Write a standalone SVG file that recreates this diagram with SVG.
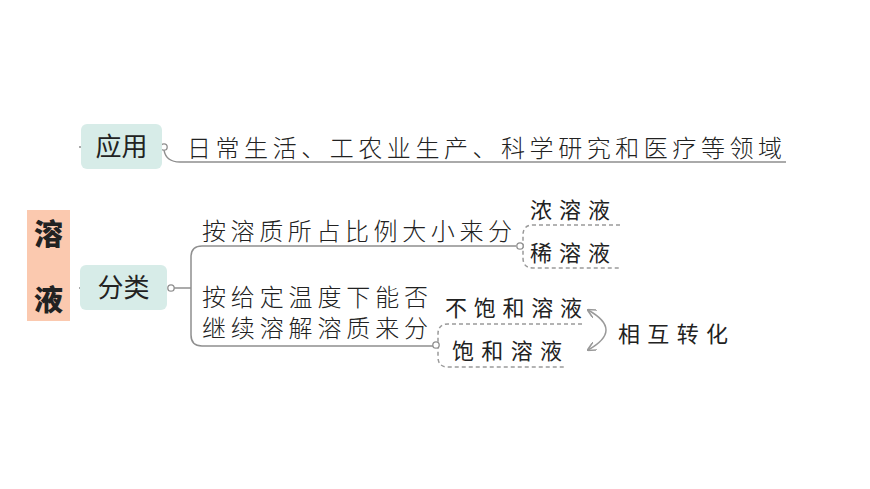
<svg xmlns="http://www.w3.org/2000/svg" width="870" height="489" viewBox="0 0 870 489">
<style>
.t{font-family:"Noto Sans CJK SC","Noto Sans",sans-serif;fill:#222;}
.main{font-size:24px;font-weight:300;}
.leaf{font-size:22px;}
.box{fill:#D7ECE8;}
.boxt{font-size:26px;}
.ln{fill:none;stroke:#8f8f8f;stroke-width:1.5;}
.dash{fill:none;stroke:#9a9a9a;stroke-width:1.5;stroke-dasharray:4 3;}
.dot{fill:#fff;stroke:#8f8f8f;stroke-width:1.3;}
</style>
<defs>
<marker id="ah" viewBox="0 0 10 10" refX="9" refY="5" markerWidth="6" markerHeight="6" orient="auto-start-reverse">
<path d="M0,0 L10,5 L0,10" fill="none" stroke="#9a9a9a" stroke-width="1.8"/>
</marker>
</defs>
<rect width="870" height="489" fill="#fff"/>
<g id="connectors">
<path class="ln" d="M164,150 Q166,162 180,162 L786,162"/>
<path class="ln" d="M174,288 L191,288"/>
<path class="ln" d="M516,246 L202,246 Q191,246 191,257 L191,335 Q191,346 202,346 L433,346"/>
<path class="dash" d="M620,225 L533,225 Q523,225 523,235 L523,258 Q523,268 533,268 L620,268"/>
<path class="dash" d="M582,324 L448,324 Q438,324 438,334 L438,357 Q438,367 448,367 L565,367"/>
<path d="M588,310 Q624,330 588,350" fill="none" stroke="#9a9a9a" stroke-width="1.5" marker-start="url(#ah)" marker-end="url(#ah)"/>
<line x1="79" y1="147" x2="82" y2="147" stroke="#aaa" stroke-width="2"/>
<line x1="79" y1="288" x2="82" y2="288" stroke="#aaa" stroke-width="2"/>
<circle class="dot" cx="164" cy="147" r="3.2"/>
<circle class="dot" cx="171" cy="288" r="3.2"/>
<circle class="dot" cx="520" cy="246" r="3.2"/>
<circle class="dot" cx="436" cy="345" r="3.2"/>
</g>
<g id="title">
<rect x="27" y="210" width="43" height="111" fill="#FBC9AF"/>
<text class="t" x="48.5" y="245" font-size="29" font-weight="900" text-anchor="middle" fill="#2a1a10">溶</text>
<text class="t" x="48.5" y="311" font-size="29" font-weight="900" text-anchor="middle" fill="#2a1a10">液</text>
</g>
<g id="node-yingyong">
<rect class="box" x="81" y="124" width="81" height="45" rx="6"/>
<text class="t boxt" x="121.5" y="156" text-anchor="middle">应用</text>
</g>
<g id="node-yingyong-detail">
<text class="t main" x="187" y="157" textLength="595" lengthAdjust="spacing">日常生活、工农业生产、科学研究和医疗等领域</text>
</g>
<g id="node-fenlei">
<rect class="box" x="80" y="265" width="87" height="45" rx="6"/>
<text class="t boxt" x="123.5" y="297" text-anchor="middle">分类</text>
</g>
<g id="node-by-ratio">
<text class="t main" x="202" y="240" textLength="310" lengthAdjust="spacing">按溶质所占比例大小来分</text>
</g>
<g id="node-nong">
<text class="t leaf" x="530" y="218" textLength="80" lengthAdjust="spacing">浓溶液</text>
</g>
<g id="node-xi">
<text class="t leaf" x="530" y="261" textLength="80" lengthAdjust="spacing">稀溶液</text>
</g>
<g id="node-by-temp">
<text class="t main"><tspan x="202" y="306" textLength="226" lengthAdjust="spacing">按给定温度下能否</tspan><tspan x="202" y="337" textLength="226" lengthAdjust="spacing">继续溶解溶质来分</tspan></text>
</g>
<g id="node-bubaohe">
<text class="t leaf" x="445" y="316" textLength="137" lengthAdjust="spacing">不饱和溶液</text>
</g>
<g id="node-baohe">
<text class="t leaf" x="452" y="359" textLength="110" lengthAdjust="spacing">饱和溶液</text>
</g>
<g id="node-convert">
<text class="t leaf" x="618" y="342" textLength="110" lengthAdjust="spacing">相互转化</text>
</g>
</svg>
